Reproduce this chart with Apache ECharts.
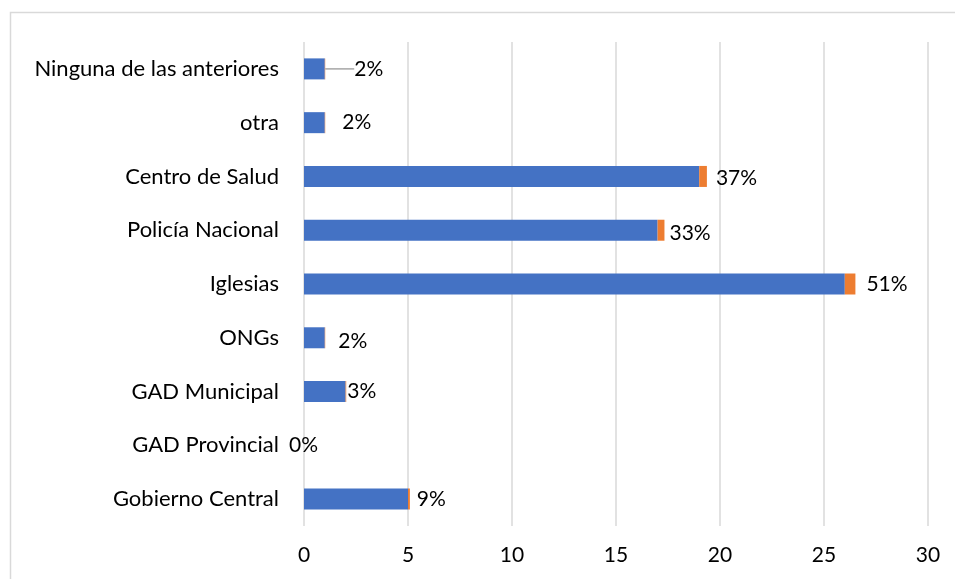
<!DOCTYPE html>
<html>
<head>
<meta charset="utf-8">
<script src="https://cdn.jsdelivr.net/npm/echarts@6/dist/echarts.min.js"></script>
<style>
  html, body { margin: 0; padding: 0; background: #fff; }
  #chart { width: 955px; height: 579px; }
</style>
</head>
<body>
<div id="chart"></div>
<script>
// bottom to top, as on the axis
var categories = ['Gobierno Central', 'GAD Provincial', 'GAD Municipal', 'ONGs', 'Iglesias',
  'Policía Nacional', 'Centro de Salud', 'otra', 'Ninguna de las anteriores'];
var counts = [5, 0, 2, 1, 26, 17, 19, 1, 1];
var shares = [0.09, 0, 0.03, 0.02, 0.51, 0.33, 0.37, 0.02, 0.02];
var xTicks = [0, 5, 10, 15, 20, 25, 30];

// hand placed label nudges, like in the original sheet
var labelNudge = [[2, 0], [-20, 0], [-4, 0], [8, 3], [6, 0], [0, 3], [4, 2], [12, 0], [24, 0]];

var chart = echarts.init(document.getElementById('chart'));

var font = 'Lato, "Open Sans", sans-serif';

chart.setOption({
  animation: false,
  textStyle: { fontFamily: font },
  graphic: [{
    type: 'rect',
    shape: { x: 10.5, y: 12.5, width: 960, height: 600 },
    style: { fill: 'none', stroke: '#d9d9d9', lineWidth: 1.5 },
    silent: true
  }],
  grid: { left: 304, top: 42, width: 624, height: 484 },
  xAxis: {
    type: 'value',
    min: xTicks[0],
    max: xTicks[xTicks.length - 1],
    interval: 5,
    axisLine: { show: false },
    axisTick: { show: false },
    axisLabel: { fontSize: 21, color: '#000', margin: 19, fontFamily: font },
    splitLine: { lineStyle: { color: '#d9d9d9', width: 1.5 } }
  },
  yAxis: {
    type: 'category',
    data: categories,
    axisLine: { show: false },
    axisTick: { show: false },
    axisLabel: { fontSize: 22, color: '#000', margin: 25, fontFamily: font }
  },
  series: [{
    name: 'Cantidad',
    type: 'bar',
    stack: 'total',
    barWidth: 21,
    data: counts,
    itemStyle: { color: '#4472C4' }
  }, {
    name: 'Porcentaje',
    type: 'bar',
    stack: 'total',
    barWidth: 21,
    data: shares.map(function (v, i) {
      var item = { value: v };
      if (i === shares.length - 1) {
        item.labelLine = { show: true, lineStyle: { color: '#a6a6a6', width: 1.5 } };
      }
      return item;
    }),
    itemStyle: { color: '#ED7D31' },
    label: {
      show: true,
      position: 'right',
      distance: 5,
      fontSize: 21,
      color: '#000',
      fontFamily: font,
      formatter: function (p) { return Math.round(p.value * 100) + '%'; }
    },
    labelLayout: function (p) {
      var n = labelNudge[p.dataIndex];
      return { dx: n[0], dy: n[1] };
    }
  }]
});
</script>
</body>
</html>
